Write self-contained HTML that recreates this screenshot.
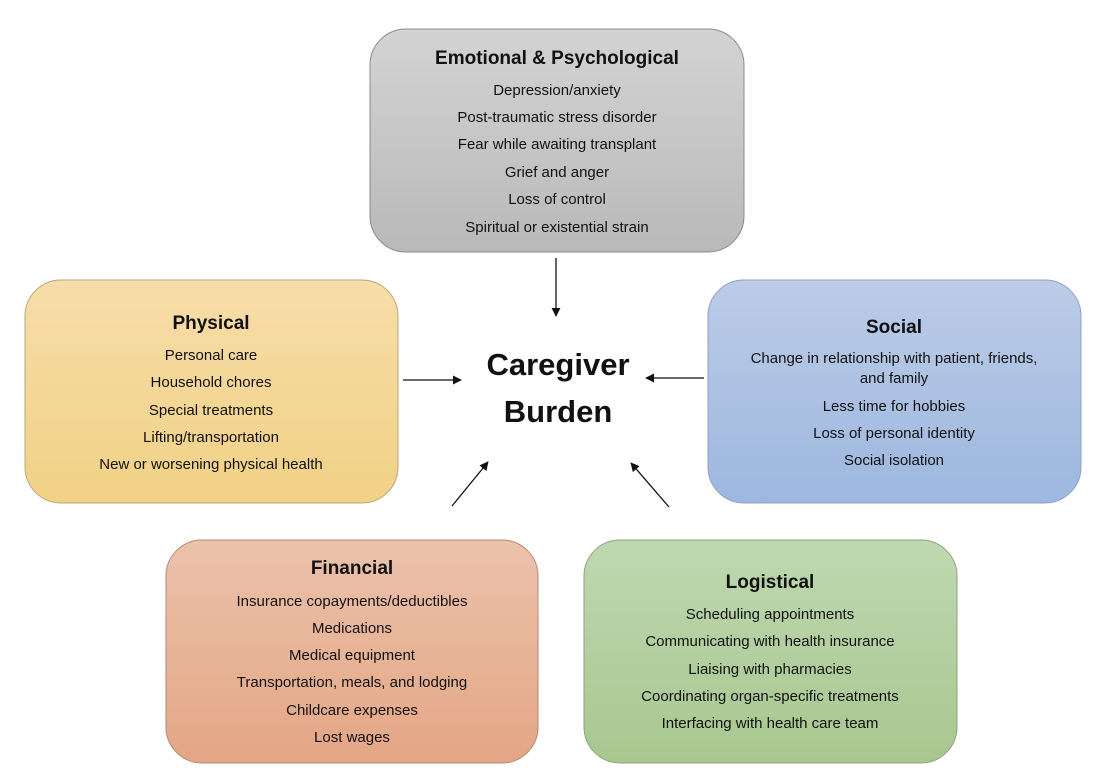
<!DOCTYPE html>
<html><head><meta charset="utf-8"><style>
html,body{margin:0;padding:0;background:#fff;}
svg{display:block;}
text{font-family:"Liberation Sans",sans-serif;fill:#111;text-anchor:middle;}
.t{font-weight:bold;font-size:19px;}
.i{font-size:15px;}
.c{font-weight:bold;font-size:31px;}
</style></head><body>
<svg width="1102" height="783" viewBox="0 0 1102 783" xmlns="http://www.w3.org/2000/svg">
<defs>
<linearGradient id="g1" x1="0" y1="0" x2="0" y2="1"><stop offset="0" stop-color="#d3d3d3"/><stop offset="1" stop-color="#b9b9b9"/></linearGradient>
<linearGradient id="g2" x1="0" y1="0" x2="0" y2="1"><stop offset="0" stop-color="#f7dda9"/><stop offset="1" stop-color="#f1d185"/></linearGradient>
<linearGradient id="g3" x1="0" y1="0" x2="0" y2="1"><stop offset="0" stop-color="#bccce7"/><stop offset="1" stop-color="#9db7df"/></linearGradient>
<linearGradient id="g4" x1="0" y1="0" x2="0" y2="1"><stop offset="0" stop-color="#ebc2ab"/><stop offset="1" stop-color="#e4a685"/></linearGradient>
<linearGradient id="g5" x1="0" y1="0" x2="0" y2="1"><stop offset="0" stop-color="#bfd8b1"/><stop offset="1" stop-color="#a7c78f"/></linearGradient>
<marker id="a" viewBox="0 0 10 10" refX="9" refY="5" markerWidth="9" markerHeight="9" markerUnits="userSpaceOnUse" orient="auto"><path d="M0,0 L10,5 L0,10 z" fill="#111"/></marker>
</defs>
<rect x="370" y="29" width="374" height="223" rx="36" fill="url(#g1)" stroke="#8a8a8a" stroke-width="1"/>
<rect x="25" y="280" width="373" height="223" rx="36" fill="url(#g2)" stroke="#b9a680" stroke-width="1"/>
<rect x="708" y="280" width="373" height="223" rx="36" fill="url(#g3)" stroke="#8fa2c0" stroke-width="1"/>
<rect x="166" y="540" width="372" height="223" rx="36" fill="url(#g4)" stroke="#b08a78" stroke-width="1"/>
<rect x="584" y="540" width="373" height="223" rx="36" fill="url(#g5)" stroke="#8da37e" stroke-width="1"/>

<text class="t" x="557" y="64">Emotional &amp; Psychological</text>
<text class="i" x="557" y="95">Depression/anxiety</text>
<text class="i" x="557" y="122">Post-traumatic stress disorder</text>
<text class="i" x="557" y="149">Fear while awaiting transplant</text>
<text class="i" x="557" y="177">Grief and anger</text>
<text class="i" x="557" y="204">Loss of control</text>
<text class="i" x="557" y="232">Spiritual or existential strain</text>

<text class="t" x="211" y="329">Physical</text>
<text class="i" x="211" y="360">Personal care</text>
<text class="i" x="211" y="387">Household chores</text>
<text class="i" x="211" y="415">Special treatments</text>
<text class="i" x="211" y="442">Lifting/transportation</text>
<text class="i" x="211" y="469">New or worsening physical health</text>

<text class="t" x="894" y="333">Social</text>
<text class="i" x="894" y="363">Change in relationship with patient, friends,</text>
<text class="i" x="894" y="383">and family</text>
<text class="i" x="894" y="411">Less time for hobbies</text>
<text class="i" x="894" y="438">Loss of personal identity</text>
<text class="i" x="894" y="465">Social isolation</text>

<text class="t" x="352" y="574">Financial</text>
<text class="i" x="352" y="606">Insurance copayments/deductibles</text>
<text class="i" x="352" y="633">Medications</text>
<text class="i" x="352" y="660">Medical equipment</text>
<text class="i" x="352" y="687">Transportation, meals, and lodging</text>
<text class="i" x="352" y="715">Childcare expenses</text>
<text class="i" x="352" y="742">Lost wages</text>

<text class="t" x="770" y="588">Logistical</text>
<text class="i" x="770" y="619">Scheduling appointments</text>
<text class="i" x="770" y="646">Communicating with health insurance</text>
<text class="i" x="770" y="674">Liaising with pharmacies</text>
<text class="i" x="770" y="701">Coordinating organ-specific treatments</text>
<text class="i" x="770" y="728">Interfacing with health care team</text>

<text class="c" x="558" y="375">Caregiver</text>
<text class="c" x="558" y="422">Burden</text>

<g stroke="#111" stroke-width="1.3" fill="none">
<line x1="556" y1="258" x2="556" y2="316" marker-end="url(#a)"/>
<line x1="403" y1="380" x2="461" y2="380" marker-end="url(#a)"/>
<line x1="704" y1="378" x2="646" y2="378" marker-end="url(#a)"/>
<line x1="452" y1="506" x2="488" y2="462" marker-end="url(#a)"/>
<line x1="669" y1="507" x2="631" y2="463" marker-end="url(#a)"/>
</g>
</svg>
</body></html>
